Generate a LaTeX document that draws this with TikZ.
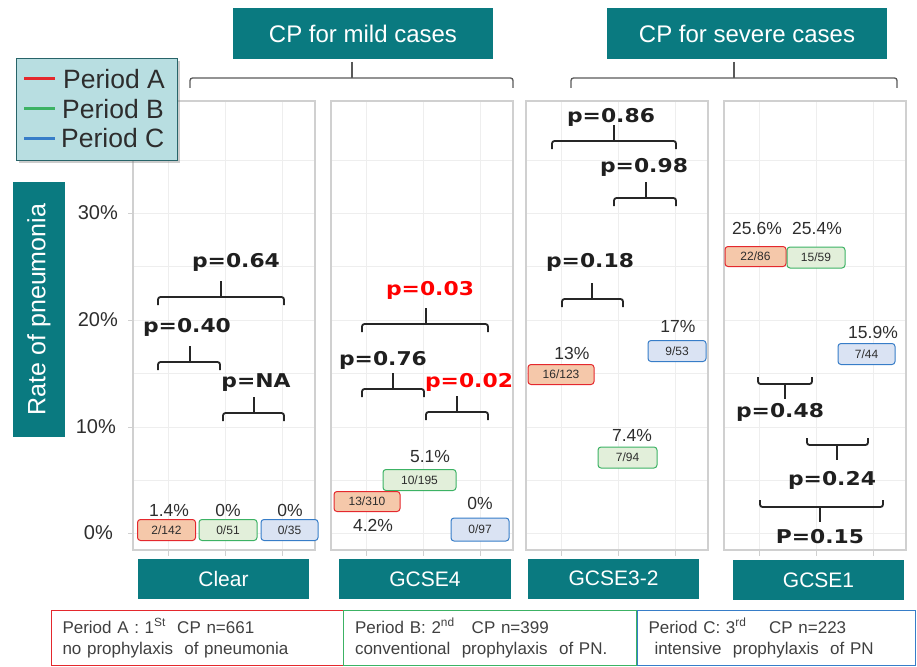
\documentclass[tikz,border=0pt]{standalone}
\usepackage{fontspec}
\setmainfont{Liberation Sans}
\newfontfamily\pfont{DejaVu Sans}
\usetikzlibrary{shadows}

\definecolor{tealbox}{RGB}{10,122,128}
\definecolor{legfill}{RGB}{184,222,225}
\definecolor{legline}{RGB}{40,100,105}
\definecolor{redA}{RGB}{228,40,45}
\definecolor{greenB}{RGB}{60,178,100}
\definecolor{blueC}{RGB}{55,125,200}
\definecolor{fillA}{RGB}{245,200,170}
\definecolor{fillB}{RGB}{226,239,218}
\definecolor{fillC}{RGB}{218,227,243}
\definecolor{gridc}{RGB}{238,238,238}
\definecolor{panelc}{RGB}{208,208,208}
\definecolor{txt}{RGB}{45,45,45}

% p-value brackets: {x left}{x right}{y}{x of tick}
\newcommand{\brkup}[4]{\draw[brk] (#1,#3+8) -- (#1,#3) -- (#2,#3) -- (#2,#3+8);
  \draw[brk] (#4,#3) -- (#4,#3-16);}
\newcommand{\brkdn}[4]{\draw[brk] (#1,#3-7) -- (#1,#3) -- (#2,#3) -- (#2,#3-7);
  \draw[brk] (#4,#3) -- (#4,#3+15);}

\begin{document}
\begin{tikzpicture}[x=1pt,y=-1pt,
  hdr/.style={fill=tealbox,text=white,inner sep=0pt,font=\fontsize{24}{24}\selectfont},
  cat/.style={hdr,minimum width=171pt,minimum height=40pt,font=\fontsize{21}{21}\selectfont},
  brk/.style={draw=black!85,line width=1.8pt,rounded corners=2.5pt},
  top/.style={draw=black!65,line width=1.3pt,rounded corners=2.5pt},
  pv/.style={font=\pfont\bfseries\fontsize{19}{19}\selectfont,text=black!88,xscale=1.15,inner sep=0pt},
  pvred/.style={pv,text=red},
  pct/.style={font=\fontsize{17.5}{17.5}\selectfont,text=txt,inner sep=0pt},
  cnt/.style={rounded corners=3pt,line width=1pt,minimum width=58pt,minimum height=21pt,
    inner sep=0pt,font=\fontsize{12}{12}\selectfont,text=txt},
  cntA/.style={cnt,draw=redA,fill=fillA},
  cntB/.style={cnt,draw=greenB,fill=fillB},
  cntC/.style={cnt,draw=blueC,fill=fillC},
  ylab/.style={anchor=east,inner sep=0pt,font=\fontsize{20}{20}\selectfont,text=txt},
  leglab/.style={anchor=west,inner sep=0pt,text=txt,font=\fontsize{26.5}{26.5}\selectfont},
  desc/.style={anchor=north west,minimum width=292pt,minimum height=55pt,line width=1pt,
    align=left,text width=270pt,inner xsep=11pt,font=\fontsize{17}{21}\selectfont,text=black!75},
]
\useasboundingbox (0,0) rectangle (917,666);

% panels
\foreach \px in {133,331,526,724}{
  \foreach \gy in {160,213,266,320,373,427,480,533}
    \draw[gridc,line width=1pt] (\px,\gy) -- (\px+182,\gy);
  \foreach \gx in {35,92,149}{
    \draw[gridc,line width=1pt] (\px+\gx,101) -- (\px+\gx,550);
    \draw[panelc,line width=1pt] (\px+\gx,550) -- (\px+\gx,556);}
  \draw[panelc,line width=1.6pt] (\px,101) rectangle (\px+182,550);
}
\foreach \gy in {213,320,427,533}
  \draw[panelc,line width=1pt] (128,\gy) -- (133,\gy);

\node[ylab] (y30) at (118,213) {30\%};
\node[ylab] (y20) at (118,320) {20\%};
\node[ylab] (y10) at (116,427) {10\%};
\node[ylab] (y0) at (113,533) {0\%};

\node[hdr,rotate=90,minimum width=255pt,minimum height=52pt,font=\fontsize{25}{25}\selectfont]
  (ytitle) at (39,309.5) {Rate of pneumonia};

% headers
\node[hdr,minimum width=260pt,minimum height=51pt] (mild) at (363,33.5) {CP for mild cases};
\node[hdr,minimum width=280pt,minimum height=51pt] (severe) at (747,33.5) {CP for severe cases};
\draw[top] (190,88) -- (190,78) -- (513,78) -- (513,88);
\draw[top] (352,62) -- (352,78);
\draw[top] (571,88) -- (571,78) -- (897,78) -- (897,88);
\draw[top] (734,62) -- (734,78);

% legend
\node[anchor=north west,fill=legfill,draw=legline,line width=1.2pt,minimum width=161pt,
  minimum height=102pt,drop shadow={shadow xshift=2pt,shadow yshift=-2pt,opacity=0.4}] (leg) at (16,58) {};
\draw[redA,line width=3pt] (24,79) -- (55,79);
\draw[greenB,line width=3pt] (24,109) -- (55,109);
\draw[blueC,line width=3pt] (24,138) -- (55,138);
\node[leglab] (legA) at (63,79) {Period A};
\node[leglab] (legB) at (62,109) {Period B};
\node[leglab] (legC) at (61,138) {Period C};

% Clear
\node[pv] (p064) at (236,262) {p=0.64};
\brkup{158}{284}{297}{221}
\node[pv] (p040) at (187,327) {p=0.40};
\brkup{158}{220}{362}{190}
\node[pv] (pNA) at (256,383) {p=NA};
\brkup{223}{284}{413}{254}
\node[pct] (q1a) at (169,510) {1.4\%};
\node[pct] (q1b) at (228,510) {0\%};
\node[pct] (q1c) at (290,510) {0\%};
\node[cntA] (n1a) at (166.5,530) {2/142};
\node[cntB] (n1b) at (228,530) {0/51};
\node[cntC,minimum width=57pt] (n1c) at (289.5,530) {0/35};

% GCSE4
\node[pvred] (p003) at (430,290) {p=0.03};
\brkup{362}{488}{324}{426}
\node[pv] (p076) at (383,360) {p=0.76};
\brkup{362}{424}{389}{393}
\node[pvred] (p002) at (469,382) {p=0.02};
\brkup{426}{488}{412}{457}
\node[pct] (q2b) at (430,457) {5.1\%};
\node[cntB,minimum width=73pt] (n2b) at (419.5,480) {10/195};
\node[cntA,minimum width=66pt,minimum height=20pt] (n2a) at (367,501.5) {13/310};
\node[pct] (q2a) at (373,525) {4.2\%};
\node[pct] (q2c) at (480,503) {0\%};
\node[cntC,minimum height=23pt] (n2c) at (480,529.5) {0/97};

% GCSE3-2
\node[pv] (p086) at (611,117) {p=0.86};
\brkup{552}{676}{141}{614}
\node[pv] (p098) at (644,167) {p=0.98};
\brkup{614}{676}{198}{646}
\node[pv] (p018) at (590,262) {p=0.18};
\brkup{562}{623}{299}{592}
\node[pct] (q3a) at (572,353) {13\%};
\node[cntA,minimum width=66pt,minimum height=20pt] (n3a) at (561,374.5) {16/123};
\node[pct] (q3c) at (678,326) {17\%};
\node[cntC] (n3c) at (677,351) {9/53};
\node[pct] (q3b) at (632,435) {7.4\%};
\node[cntB,minimum width=59pt] (n3b) at (627.5,457.5) {7/94};

% GCSE1
\node[pct] (q4a) at (757,228) {25.6\%};
\node[pct] (q4b) at (817,228) {25.4\%};
\node[cntA,minimum width=61pt,minimum height=20pt] (n4a) at (755.5,256.5) {22/86};
\node[cntB] (n4b) at (816,257.5) {15/59};
\node[pct] (q4c) at (873,332) {15.9\%};
\node[cntC,minimum width=57pt] (n4c) at (866.5,354) {7/44};
\brkdn{758}{812}{384}{785}
\node[pv] (p048) at (780,412) {p=0.48};
\brkdn{807}{868}{445}{837}
\node[pv] (p024) at (832,480) {p=0.24};
\brkdn{760}{883}{507}{820}
\node[pv] (p015) at (820,537) {P=0.15};

% category boxes
\node[cat] (clear) at (223.5,579) {Clear};
\node[cat,minimum width=172pt] (g4) at (425,579) {GCSE4};
\node[cat] (g32) at (613.5,578.5) {GCSE3-2};
\node[cat] (g1) at (818.5,580) {GCSE1};

% periods
\node[desc,draw=redA] (perA) at (51,610)
  {Period A : 1\textsuperscript{St}\ \ CP n=661\\no prophylaxis\ \ of pneumonia};
\node[desc,draw=greenB,minimum width=293pt] (perB) at (343,610)
  {Period B: 2\textsuperscript{nd}\ \ \ CP n=399\\conventional\ \ prophylaxis\ \ of PN.};
\node[desc,draw=blueC,minimum width=278pt,text width=256pt] (perC) at (637,610)
  {Period C: 3\textsuperscript{rd}\ \ \ \ CP n=223\\\hspace*{6pt}intensive\ \ prophylaxis\ \ of PN};

\end{tikzpicture}
\end{document}
